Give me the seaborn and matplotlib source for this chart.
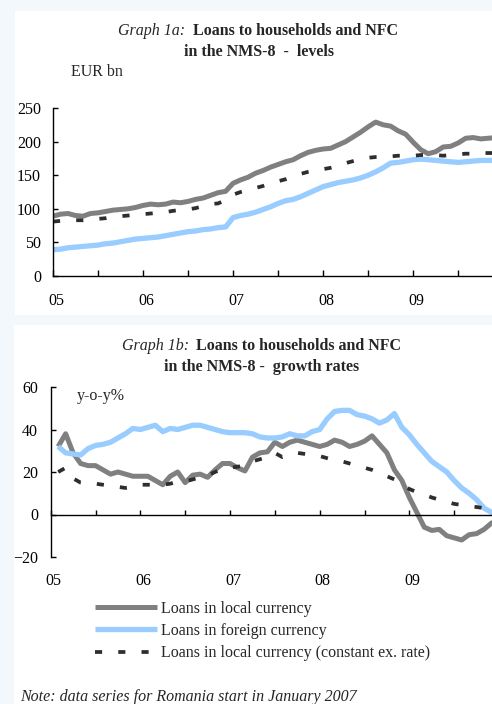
import matplotlib
matplotlib.use("Agg")
import matplotlib.pyplot as plt
import seaborn as sns
from matplotlib.patches import Rectangle

# ---- data: monthly series, month 0 = January 2005 ----
series_names = [
    "Loans in local currency",
    "Loans in foreign currency",
    "Loans in local currency (constant ex. rate)",
]
year_labels = ["05", "06", "07", "08", "09"]

# Graph 1a: levels, EUR bn (Jan 2005 ...)
levels_local = [
    89, 92, 93, 90, 89, 93, 94, 96, 98, 99,
    100, 102, 105, 107, 106, 107, 110, 109, 111, 114,
    116, 120, 124, 126, 138, 143, 147, 153, 157, 162,
    166, 170, 173, 179, 184, 187, 189, 190, 195, 200,
    207, 214, 222, 229, 225, 223, 216, 211, 199, 188,
    182, 185, 192, 193, 198, 205, 206, 204, 205, 206,
]
levels_foreign = [
    39, 40, 42, 43, 44, 45, 46, 48, 49, 51,
    53, 55, 56, 57, 58, 60, 62, 64, 66, 67,
    69, 70, 72, 73, 87, 90, 92, 95, 99, 103,
    108, 112, 114, 118, 123, 128, 133, 136, 139, 141,
    143, 146, 150, 155, 161, 168, 169, 171, 173, 174,
    173, 172, 171, 170, 169, 170, 171, 172, 172, 172,
]
levels_local_const = [
    81, 82, 83, 83, 83, 84, 85, 86, 88, 89,
    90, 91, 92, 93, 94, 95, 97, 98, 99, 101,
    104, 107, 108, 113, 121, 125, 128, 131, 134, 138,
    141, 144, 148, 152, 155, 157, 159, 161, 164, 168,
    171, 174, 176, 177, 177, 178, 179, 179, 179, 180,
    180, 180, 179, 180, 181, 182, 182, 183, 183, 183,
]
levels_months = list(range(len(levels_local)))

# Graph 1b: growth rates, y-o-y % (Feb 2005 ...)
growth_local = [
    32, 38, 29, 24, 23, 23, 21, 19, 20, 19,
    18, 18, 18, 16, 14, 18, 20, 15, 18.5, 19,
    17.5, 21, 24, 24, 22, 20.5, 27, 29, 29.5, 34,
    32, 34, 35, 34, 33, 32, 33, 35, 34, 32,
    33, 34.5, 37, 33, 29, 21, 16, 8, 1, -6,
    -7.5, -7, -10, -11, -12, -9.5, -9, -7, -4, -3,
]
growth_foreign = [
    32, 29, 28.5, 28, 31, 32.5, 33, 34, 36, 38,
    40.5, 40, 41, 42, 39, 40.5, 40, 41, 42, 42,
    41, 40, 39, 38.5, 38.5, 38.5, 38, 36.5, 36, 36,
    36.5, 38, 37, 37, 39, 40, 45, 48.5, 49, 49,
    47, 46.3, 45, 43, 44.5, 47.5, 41, 37.5, 33, 29,
    25, 22.5, 20, 16, 12.5, 10, 7, 3, 1, 0.5,
]
growth_local_const = [
    20, 22, 17, 15, 14.5, 14.5, 14, 13.5, 13, 12.5,
    13, 14, 14, 14, 14, 14.5, 15.5, 15.5, 16.5, 17.5,
    18.5, 20, 21.5, 22, 22.5, 23, 25, 26, 27, 29,
    27, 28, 29, 28.5, 28, 27.5, 26.5, 25.5, 25, 24,
    23, 22, 21, 19.5, 18, 16.5, 14, 12, 10.5, 9.5,
    8, 7, 6, 5, 4.5, 4, 3.5, 3, 2.5, 2.3,
]
growth_months = list(range(1, len(growth_local) + 1))

# ---- styling ----
W, H = 492, 704
FS = 11.5
SERIF = ["Liberation Serif", "DejaVu Serif"]
sns.set_theme(style="white")
plt.rcParams["font.family"] = SERIF
plt.rcParams["font.size"] = FS

colors = ["#808080", "#99CCFF", "#2E2E2E"]
widths = [3.6, 3.8, 2.7]
styles = ["-", "-", (0, (1.9, 4.3))]


def fx(px):
    return px / W


def fy(py):
    return (H - py) / H


fig = plt.figure(figsize=(W / 100, H / 100), dpi=100)
fig.patch.set_facecolor("#F3F8FD")

# white panels behind each chart
fig.add_artist(Rectangle((fx(15), fy(315)), fx(W - 15), (315 - 11) / H,
                         transform=fig.transFigure, facecolor="white",
                         edgecolor="none", zorder=0))
fig.add_artist(Rectangle((fx(14), 0), fx(W - 14), (H - 325) / H,
                         transform=fig.transFigure, facecolor="white",
                         edgecolor="none", zorder=0))


def draw_series(ax, months, values_list):
    for name, vals, c, lw, ls in zip(series_names, values_list, colors, widths, styles):
        sns.lineplot(x=months, y=vals, ax=ax, color=c, linewidth=lw,
                     linestyle=ls, label=name, solid_joinstyle="round",
                     solid_capstyle="butt", dash_capstyle="butt")
    if ax.get_legend() is not None:
        ax.get_legend().remove()


def style_axes(ax):
    ax.set_facecolor("none")
    for s in ["top", "right"]:
        ax.spines[s].set_visible(False)
    for s in ["left", "bottom"]:
        ax.spines[s].set_color("black")
        ax.spines[s].set_linewidth(1.0)
    ax.set_xlabel("")
    ax.set_ylabel("")
    ax.grid(False)


# ---- Graph 1a ----
ax1 = fig.add_axes([fx(53), fy(276), fx(W - 53), 168 / H])
draw_series(ax1, levels_months, [levels_local, levels_foreign, levels_local_const])
style_axes(ax1)
ax1.set_xlim(0, 58.5)
ax1.set_ylim(0, 250)
ax1.set_yticks(range(0, 251, 50))
ax1.tick_params(axis="y", direction="in", length=3.8, width=1.0, pad=8.6,
                labelsize=FS, left=True, colors="black")
ax1.set_xticks([12 * i + 0.4 for i in range(len(year_labels))])
ax1.set_xticklabels(year_labels)
ax1.set_xticks(range(0, 59, 6), minor=True)
ax1.tick_params(axis="x", which="major", length=0, pad=12, labelsize=FS, colors="black")
ax1.tick_params(axis="x", which="minor", direction="in", length=4.3, width=1.0,
                bottom=True, color="black")

# ---- Graph 1b ----
ax2 = fig.add_axes([fx(50.7), fy(557), fx(W - 50.7), 170 / H])
draw_series(ax2, growth_months, [growth_local, growth_foreign, growth_local_const])
style_axes(ax2)
ax2.set_xlim(0, 59.06)
ax2.set_ylim(-20, 60)
ax2.set_yticks(range(-20, 61, 20))
ax2.tick_params(axis="y", direction="in", length=3.8, width=1.0, pad=9,
                labelsize=FS, left=True, colors="black")
ax2.spines["bottom"].set_position(("data", 0))
ax2.set_xticks(range(0, 60, 6))
ax2.set_xticklabels([])
ax2.tick_params(axis="x", direction="in", length=3.8, width=1.0, bottom=True,
                color="black")
for i, lab in enumerate(year_labels):
    ax2.text(12 * i + 0.4, -24 / 170, lab, transform=ax2.get_xaxis_transform(),
             ha="center", va="center", fontsize=FS, color="black")

# ---- titles and notes ----
fig.text(fx(185), fy(31), "Graph 1a:", style="italic", ha="right", va="center", fontsize=FS)
fig.text(fx(193), fy(31), "Loans to households and NFC", weight="bold", ha="left",
         va="center", fontsize=FS)
fig.text(fx(259), fy(52), "in the NMS-8  -  levels", weight="bold", ha="center",
         va="center", fontsize=FS)
fig.text(fx(71), fy(72), "EUR bn", ha="left", va="center", fontsize=FS)

fig.text(fx(189), fy(346), "Graph 1b:", style="italic", ha="right", va="center", fontsize=FS)
fig.text(fx(196), fy(346), "Loans to households and NFC", weight="bold", ha="left",
         va="center", fontsize=FS)
fig.text(fx(262), fy(367), "in the NMS-8 -  growth rates", weight="bold", ha="center",
         va="center", fontsize=FS)
fig.text(fx(77), fy(396), "y-o-y%", ha="left", va="center", fontsize=FS)

handles, labels = ax2.get_legend_handles_labels()
fig.legend(handles, labels, loc="upper left", bbox_to_anchor=(fx(95), fy(601)),
           bbox_transform=fig.transFigure, frameon=False, borderpad=0,
           borderaxespad=0, handlelength=3.9, handletextpad=0.25,
           labelspacing=0.38, fontsize=FS)

fig.text(fx(20), fy(697), "Note: data series for Romania start in January 2007",
         style="italic", ha="left", va="center", fontsize=FS)

fig.savefig("out.png", dpi=100, facecolor=fig.get_facecolor())
